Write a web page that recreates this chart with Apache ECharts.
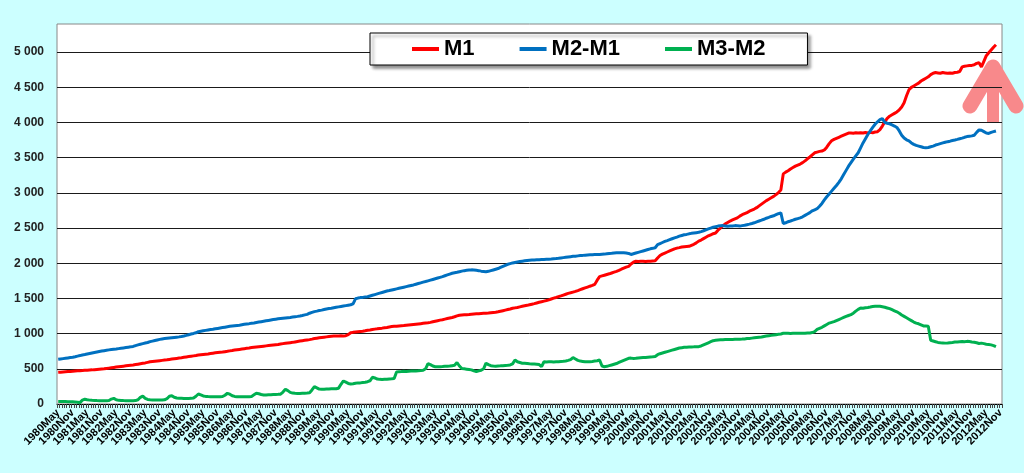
<!DOCTYPE html>
<html>
<head>
<meta charset="utf-8">
<script src="https://cdn.jsdelivr.net/npm/echarts@6/dist/echarts.min.js"></script>
<style>
html,body{margin:0;padding:0;background:#CCFFFF;}
#c{width:1024px;height:473px;}
</style>
</head>
<body>
<div id="c"></div>
<script>
// Category labels: monthly, 1980May .. 2012Nov
const years = [];
for (let y = 1980; y <= 2012; y++) years.push(y);
const monthNames = ['Jan','Feb','Mar','Apr','May','Jun','Jul','Aug','Sep','Oct','Nov','Dec'];
const firstMonth = 4;   // May 1980
const lastMonth = 10;   // Nov 2012
const categories = [];
years.forEach(function (y, yi) {
  const m0 = yi === 0 ? firstMonth : 0;
  const m1 = yi === years.length - 1 ? lastMonth : 11;
  for (let m = m0; m <= m1; m++) categories.push(y + monthNames[m]);
});

const yTicks = [0,500,1000,1500,2000,2500,3000,3500,4000,4500,5000];

const m1 = [].concat(
  [450,452,455,458,461,463,466,469],
  [472,474,476,479,481,483,485,488,491,494,497,500],
  [505,510,515,520,525,530,534,538,542,546,550,554],
  [560,566,572,578,584,592,600,604,608,612,616,620],
  [624,628,633,638,643,648,653,658,664,669,674,679],
  [684,689,695,700,704,708,712,717,722,727,731,735],
  [739,744,749,755,760,766,771,776,781,786,791,796],
  [802,806,810,814,818,822,826,830,834,838,842,846],
  [852,858,864,868,872,876,882,888,894,900,905,910],
  [915,922,930,935,940,945,950,954,958,962,965,968],
  [968,969,968,970,985,1012,1018,1022,1026,1030,1034,1040],
  [1048,1052,1058,1064,1068,1074,1078,1084,1088,1094,1100,1104],
  [1106,1110,1112,1114,1118,1122,1126,1130,1134,1138,1142,1146],
  [1150,1154,1160,1168,1176,1184,1192,1198,1206,1214,1222,1230],
  [1240,1252,1262,1266,1268,1270,1272,1276,1280,1282,1284,1286],
  [1288,1290,1292,1296,1300,1304,1310,1318,1326,1334,1342,1350],
  [1360,1366,1372,1380,1388,1395,1402,1410,1418,1426,1436,1446],
  [1454,1462,1470,1480,1492,1504,1514,1525,1536,1548,1560,1572],
  [1580,1590,1600,1612,1625,1638,1650,1662,1674,1685,1700,1760],
  [1810,1820,1830,1840,1850,1862,1874,1885,1898,1915,1930,1945],
  [1955,1990,2015,2030,2025,2028,2030,2026,2030,2028,2032,2035],
  [2075,2110,2130,2145,2160,2175,2190,2205,2215,2222,2230,2235],
  [2238,2240,2255,2270,2290,2315,2330,2350,2370,2390,2405,2420],
  [2430,2470,2500,2535,2560,2580,2600,2615,2630,2645,2670,2690],
  [2705,2720,2740,2755,2770,2790,2815,2840,2865,2890,2910,2930],
  [2950,2975,3005,3040,3270,3295,3315,3340,3360,3380,3395,3410],
  [3430,3455,3485,3510,3540,3570,3580,3590,3595,3610,3650,3700],
  [3740,3760,3775,3790,3805,3820,3835,3850,3850,3848,3855,3850],
  [3855,3850,3858,3850,3860,3855,3865,3870,3900,3950,4010,4060],
  [4090,4110,4130,4150,4180,4220,4280,4380,4465,4500,4520,4540],
  [4560,4590,4610,4630,4650,4680,4700,4710,4705,4700,4710,4705],
  [4700,4705,4700,4710,4715,4725,4790,4800,4805,4810,4812,4820],
  [4840,4850,4790,4870,4950,4990,5030,5070,5105,null,null]
);

const m2m1 = [].concat(
  [635,640,645,650,655,660,665,672],
  [680,688,697,703,710,717,724,731,738,745,752,758],
  [764,769,774,778,782,787,792,797,802,807,812,818],
  [830,840,850,858,866,874,886,894,902,910,918,925],
  [930,934,938,942,946,950,954,960,967,975,985,995],
  [1003,1012,1028,1034,1040,1046,1052,1058,1062,1068,1074,1080],
  [1086,1092,1098,1104,1108,1112,1116,1120,1126,1132,1138,1142],
  [1147,1152,1158,1164,1170,1176,1182,1188,1194,1200,1205,1210],
  [1214,1218,1222,1226,1230,1235,1240,1245,1251,1258,1266,1274],
  [1290,1302,1313,1320,1328,1334,1342,1350,1356,1361,1368,1374],
  [1380,1386,1392,1398,1404,1410,1422,1495,1505,1512,1515,1520],
  [1525,1535,1545,1555,1565,1575,1585,1595,1605,1612,1620,1628],
  [1636,1644,1652,1660,1668,1676,1684,1692,1702,1712,1722,1732],
  [1740,1750,1760,1770,1780,1790,1800,1810,1822,1834,1846,1858],
  [1866,1872,1880,1888,1895,1900,1904,1906,1905,1900,1895,1888],
  [1884,1880,1885,1895,1905,1915,1925,1940,1955,1970,1985,1995],
  [2005,2012,2018,2024,2030,2035,2040,2043,2046,2048,2050,2050],
  [2052,2054,2056,2058,2060,2063,2066,2070,2075,2080,2085,2090],
  [2094,2098,2100,2105,2110,2112,2115,2118,2120,2122,2124,2125],
  [2125,2128,2130,2135,2140,2142,2145,2148,2150,2150,2148,2145],
  [2140,2125,2135,2145,2155,2165,2175,2185,2195,2205,2212,2220],
  [2265,2280,2295,2310,2322,2335,2348,2360,2372,2385,2395,2405],
  [2410,2418,2425,2430,2435,2440,2450,2462,2475,2488,2500,2512],
  [2520,2528,2532,2535,2530,2525,2528,2530,2535,2532,2528,2535],
  [2540,2548,2556,2565,2575,2588,2600,2612,2625,2640,2652,2665],
  [2675,2690,2705,2715,2565,2575,2590,2600,2612,2625,2635,2645],
  [2660,2680,2700,2720,2745,2760,2775,2810,2850,2900,2945,2985],
  [3025,3065,3105,3150,3200,3260,3320,3380,3430,3480,3525,3570],
  [3640,3710,3770,3830,3880,3930,3975,4010,4040,4055,4000,3990],
  [3980,3965,3950,3930,3880,3820,3780,3755,3740,3710,3690,3675],
  [3665,3655,3645,3640,3645,3655,3665,3680,3690,3700,3710,3720],
  [3728,3735,3745,3752,3760,3770,3778,3790,3800,3805,3810,3820],
  [3860,3895,3890,3870,3850,3845,3860,3870,3880,null,null]
);

const m3m2 = [].concat(
  [35,35,34,34,33,33,32,30],
  [25,20,55,67,60,55,52,50,48,47,46,45],
  [45,50,70,80,60,52,50,48,47,47,46,46],
  [48,60,95,113,80,65,60,58,57,56,56,57],
  [60,75,110,118,95,85,82,80,78,78,79,80],
  [85,110,142,130,115,108,105,104,102,102,103,104],
  [106,125,152,140,118,108,104,103,102,102,103,104],
  [108,130,152,145,135,128,128,130,132,134,136,137],
  [140,170,209,190,165,155,152,150,150,152,154,156],
  [160,200,246,230,212,209,210,212,214,216,217,218],
  [225,280,327,310,292,284,288,295,300,300,305,310],
  [317,330,380,370,355,350,348,350,352,355,358,362],
  [455,460,462,465,463,466,468,470,470,472,475,480],
  [500,575,560,540,530,528,530,532,535,538,540,545],
  [550,590,540,505,500,495,490,485,470,460,470,480],
  [500,580,560,545,540,538,540,542,545,548,550,555],
  [570,625,600,590,580,578,575,572,570,568,565,560],
  [530,600,598,600,600,598,600,602,605,608,612,620],
  [630,660,640,620,610,605,600,600,602,605,610,615],
  [625,540,530,535,545,555,565,575,590,605,620,635],
  [650,652,648,650,655,658,660,662,665,668,670,675],
  [700,715,725,735,745,755,765,775,785,795,800,805],
  [808,810,810,812,815,815,825,840,855,870,885,900],
  [905,910,912,912,915,915,918,918,920,920,920,922],
  [925,930,932,936,940,944,948,952,960,965,970,975],
  [980,985,990,995,1005,1005,1005,1003,1005,1005,1005,1006],
  [1005,1005,1008,1010,1015,1030,1060,1075,1090,1110,1130,1150],
  [1160,1170,1185,1200,1215,1230,1245,1258,1270,1290,1320,1345],
  [1365,1360,1368,1372,1378,1385,1388,1390,1388,1382,1375,1365],
  [1355,1340,1325,1310,1290,1265,1245,1225,1205,1185,1165,1150],
  [1140,1125,1110,1108,1105,905,895,885,875,870,868,865],
  [868,872,875,880,882,885,888,885,890,888,882,878],
  [870,860,865,858,850,845,840,830,815,null,null]
);

const seriesNames = ['M1','M2-M1','M3-M2'];
const seriesColors = ['#FF0000','#0070C0','#00B050'];
const seriesData = [m1, m2m1, m3m2];

function fmt(v) {
  return String(v).replace(/\B(?=(\d{3})+(?!\d))/g, ' ');
}

const labelFont = {fontFamily: 'Arial, Liberation Sans', fontWeight: 'bold', fontSize: 11, color: '#000'};

const chart = echarts.init(document.getElementById('c'), null, {renderer: 'canvas'});
chart.setOption({
  animation: false,
  backgroundColor: '#CCFFFF',
  grid: {
    left: 57, right: 22, top: 24, bottom: 69,
    show: true, backgroundColor: '#FFFFFF', borderColor: '#888888', borderWidth: 1
  },
  legend: {
    data: seriesNames,
    left: 370, top: 33,
    padding: [5, 42, 5, 42],
    itemGap: 45,
    itemWidth: 27, itemHeight: 4,
    icon: 'rect',
    backgroundColor: '#FFFFFF',
    borderColor: '#000000', borderWidth: 1,
    shadowColor: 'rgba(0,0,0,0.45)', shadowBlur: 3, shadowOffsetX: 3, shadowOffsetY: 3,
    textStyle: {fontFamily: 'Arial, Liberation Sans', fontWeight: 'bold', fontSize: 22, color: '#000'}
  },
  xAxis: [
    {
      type: 'category', position: 'bottom',
      data: categories,
      boundaryGap: true,
      axisLine: {show: true, lineStyle: {color: '#000', width: 1}},
      axisTick: {show: true, interval: 0, length: 4, lineStyle: {color: '#444'}},
      axisLabel: Object.assign({
        interval: function (idx) { return idx % 12 === 0; },
        rotate: 45, margin: 7, hideOverlap: false
      }, labelFont),
      splitLine: {show: false}
    },
    {
      type: 'category', position: 'bottom',
      data: categories,
      boundaryGap: true,
      axisLine: {show: false},
      axisTick: {show: false},
      axisLabel: Object.assign({
        interval: function (idx) { return idx % 12 === 6; },
        rotate: 45, margin: 7, hideOverlap: false
      }, labelFont),
      splitLine: {show: false}
    }
  ],
  yAxis: {
    type: 'value',
    min: 0, max: 5400, interval: 500,
    axisLine: {show: false},
    axisTick: {show: false},
    axisLabel: {
      margin: 13,
      fontFamily: 'Arial, Liberation Sans', fontWeight: 'bold', fontSize: 12, color: '#222',
      formatter: function (v) { return yTicks.indexOf(v) >= 0 ? fmt(v) : ''; }
    },
    splitLine: {show: true, showMaxLine: false, showMinLine: false, lineStyle: {color: '#1a1a1a', width: 1}}
  },
  series: seriesNames.map(function (n, i) {
    return {
      name: n, type: 'line', data: seriesData[i], xAxisIndex: 0,
      showSymbol: false, symbol: 'none',
      lineStyle: {color: seriesColors[i], width: 3},
      itemStyle: {color: seriesColors[i]},
      connectNulls: false
    };
  }),
  graphic: [
    {
      type: 'group', z: 100,
      children: [
        {type: 'rect', shape: {x: 987, y: 76, width: 12, height: 47},
         style: {fill: '#F8898B'}},
        {type: 'polyline', shape: {points: [[970, 106], [993, 67], [1016, 106]]},
         style: {stroke: '#F8898B', lineWidth: 15, lineCap: 'round', lineJoin: 'round', fill: null}}
      ]
    }
  ]
});
</script>
</body>
</html>
